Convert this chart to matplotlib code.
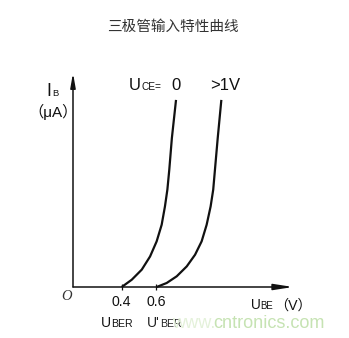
import matplotlib
matplotlib.use("Agg")
import matplotlib.pyplot as plt

# ---- data ----
title = "三极管输入特性曲线"
# curve for U_CE = 0  (U_BE in V, I_B in arbitrary μA units)
ube_0 = [0.400, 0.458, 0.516, 0.564, 0.602, 0.631, 0.650, 0.664, 0.675, 0.690, 0.714]
ib_0 = [0.0, 3.8, 9.1, 16.0, 23.9, 32.6, 42.2, 51.0, 61.4, 78.0, 98.0]
# curve for U_CE > 1 V
ube_1 = [0.602, 0.660, 0.718, 0.776, 0.824, 0.862, 0.891, 0.914, 0.929, 0.939, 0.955, 0.976]
ib_1 = [0.0, 2.1, 5.6, 10.8, 16.9, 23.9, 32.6, 42.2, 51.0, 61.4, 78.0, 98.0]
tick_vals = [0.4, 0.6]
tick_labels = ["0.4", "0.6"]
curve_labels = ["0", ">1V"]

W, H = 349, 338
fig = plt.figure(figsize=(W / 100, H / 100), dpi=100)
fig.patch.set_facecolor("white")

SANS = ["Liberation Sans", "Noto Sans CJK SC", "DejaVu Sans"]
CJK = ["Noto Sans CJK SC", "DejaVu Sans"]
INK = "#111111"

# axes: origin at pixel (73, 287), x-arrow to 293, y-arrow to 73
ax = fig.add_axes([73 / W, 1 - 287 / H, (293 - 73) / W, (287 - 73) / H])
pxv = 173.0
ax.set_xlim(0.4 - (121.7 - 73) / pxv, 0.4 + (293 - 121.7) / pxv)
ax.set_ylim(0, 112.1)
for s in ax.spines.values():
    s.set_visible(False)
ax.set_yticks([])
ax.set_xticks(tick_vals, tick_labels)
ax.tick_params(axis="x", direction="inout", length=4.5, width=0.9, pad=3.5,
               labelsize=10.2, colors=INK)
for t in ax.get_xticklabels():
    t.set_fontfamily(SANS)
ax.patch.set_alpha(0)

arrow_kw = dict(xycoords="axes fraction", textcoords="axes fraction")
ax.annotate("", xy=(1, 0), xytext=(0, 0), **arrow_kw,
            arrowprops=dict(arrowstyle="-|>,head_length=1.15,head_width=0.18",
                            lw=1.1, color=INK, shrinkA=0, shrinkB=0))
ax.annotate("", xy=(0, 1), xytext=(0, 0), **arrow_kw,
            arrowprops=dict(arrowstyle="-|>,head_length=0.85,head_width=0.15",
                            lw=1.1, color=INK, shrinkA=0, shrinkB=0))

ax.plot(ube_0, ib_0, color=INK, lw=1.6, solid_capstyle="butt", clip_on=False)
ax.plot(ube_1, ib_1, color=INK, lw=1.6, solid_capstyle="butt", clip_on=False)


def ptext(px, py, s, size, family=SANS, color=INK, **kw):
    kw.setdefault("va", "baseline")
    kw.setdefault("ha", "left")
    return fig.text(px / W, 1 - py / H, s, fontsize=size, family=family,
                    color=color, **kw)


# title
ptext(173, 27, title, 10.5, family=CJK, color="#333333", ha="center", va="center")

# y-axis label
ptext(46.8, 96, "I", 12.7)
ptext(52.2, 96, "B", 6.8)
ptext(53, 117.3, "（μA）", 11, ha="center")

# U_CE =
ptext(128.8, 90.5, "U", 12)
ptext(141.8, 90.5, "CE=", 7.3)
ptext(175.5, 90.5, curve_labels[0], 12, ha="center")
ptext(225, 90.5, curve_labels[1], 12, ha="center")

# origin
ptext(61, 300, "O", 10.5, family=["Liberation Serif"], style="italic", color="#333333")

# U_BE (V)
ptext(250.6, 309.3, "U", 9.8)
ptext(260.6, 309.3, "BE", 6.9)
ptext(293.3, 309.3, "（V）", 10.2, ha="center")

# U_BER labels
ptext(100.6, 327.3, "U", 10)
ptext(110.9, 327.3, "BER", 7.6)
ptext(147.2, 327.3, "U'", 10, color="#222222")
ptext(160.4, 327.3, "BER", 7.6, color="#222222")

# watermark (faint "www." part, then the brighter domain)
ptext(172, 328, "www.", 13.1, color="#e4f1da")
ptext(213, 328, "cntronics.com", 13.1, color="#c6e3b3")

fig.savefig("out.png", dpi=100, facecolor="white")
